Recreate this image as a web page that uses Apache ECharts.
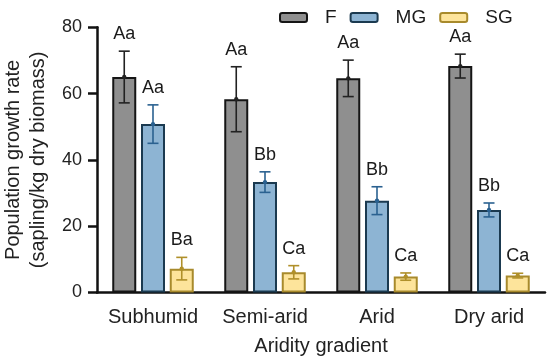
<!DOCTYPE html>
<html>
<head>
<meta charset="utf-8">
<script src="https://cdn.jsdelivr.net/npm/echarts@6/dist/echarts.min.js"></script>
<style>html,body{margin:0;padding:0;background:#fff}#c{width:550px;height:364px}</style>
</head>
<body>
<div id="c"></div>
<script>
var categories = ['Subhumid', 'Semi-arid', 'Arid', 'Dry arid'];
var seriesNames = ['F', 'MG', 'SG'];
var valuesF = [65.0, 58.3, 64.6, 68.3];
var errF = [7.8, 9.8, 5.5, 3.6];
var lettersF = ['Aa', 'Aa', 'Aa', 'Aa'];
var valuesMG = [50.8, 33.3, 27.7, 24.9];
var errMG = [5.8, 3.1, 4.2, 2.1];
var lettersMG = ['Aa', 'Bb', 'Bb', 'Bb'];
var valuesSG = [7.2, 6.1, 4.8, 5.1];
var errSG = [3.4, 2.0, 1.1, 0.7];
var lettersSG = ['Ba', 'Ca', 'Ca', 'Ca'];
var yTicks = [0, 20, 40, 60, 80];

var FONT = 'Liberation Sans, Arial, sans-serif';
var BAR_W = 24, GAP = 4.75;
var fills = ['#8f8f8f', '#8db4d3', '#fde49b'];
var borders = ['#151515', '#1b3a50', '#a88a2c'];
var errColors = ['#222222', '#2a6190', '#b0902a'];
var vals = [valuesF, valuesMG, valuesSG];
var errs = [errF, errMG, errSG];
var letters = [lettersF, lettersMG, lettersSG];

var series = [];
seriesNames.forEach(function (name, s) {
  series.push({
    name: name, type: 'bar', data: vals[s],
    barWidth: BAR_W, barGap: (GAP / BAR_W * 100) + '%',
    itemStyle: { color: fills[s], borderColor: borders[s], borderWidth: 2 },
    emphasis: { disabled: true }
  });
});
seriesNames.forEach(function (name, s) {
  var data = vals[s].map(function (v, i) { return [i, v, errs[s][i]]; });
  series.push({
    type: 'custom', name: name + '_err', data: data, z: 5, silent: true,
    renderItem: function (params, api) {
      var i = api.value(0), v = api.value(1), e = api.value(2);
      var off = (s - 1) * (BAR_W + GAP);
      var c = api.coord([i, v]);
      var hi = api.coord([i, v + e]);
      var lo = api.coord([i, v - e]);
      var x = c[0] + off;
      var cap = 5.5;
      var st = { stroke: errColors[s], lineWidth: 1.6 };
      return {
        type: 'group', children: [
          { type: 'line', shape: { x1: x, y1: hi[1], x2: x, y2: lo[1] }, style: st },
          { type: 'line', shape: { x1: x - cap, y1: hi[1], x2: x + cap, y2: hi[1] }, style: st },
          { type: 'line', shape: { x1: x - cap, y1: lo[1], x2: x + cap, y2: lo[1] }, style: st },
          { type: 'circle', shape: { cx: x, cy: c[1], r: 2.2 }, style: { fill: errColors[s] } },
          { type: 'text', x: x, y: hi[1] - 8, style: { text: letters[s][params.dataIndex], fill: '#1a1a1a', font: '18px ' + FONT, align: 'center', verticalAlign: 'bottom' } }
        ]
      };
    }
  });
});

var chart = echarts.init(document.getElementById('c'), null, { renderer: 'canvas' });
chart.setOption({
  animation: false,
  backgroundColor: '#fff',
  textStyle: { fontFamily: FONT },
  legend: {
    data: seriesNames, left: 274, top: 3, itemWidth: 27, itemHeight: 9, itemGap: 13,
    textStyle: { fontSize: 19, color: '#1a1a1a', fontFamily: FONT, padding: [0, 0, 0, 13] },
    selectedMode: false
  },
  grid: { left: 97, right: 5, top: 27.3, bottom: 71.5, containLabel: false, outerBoundsMode: 'none' },
  xAxis: {
    type: 'category', data: categories,
    axisLine: { lineStyle: { color: '#111', width: 2.5 } },
    axisTick: { alignWithLabel: true, length: 10, lineStyle: { color: '#111', width: 2.5 } },
    axisLabel: { fontSize: 20, color: '#222', margin: 15, interval: 0, fontFamily: FONT },
    name: 'Aridity gradient', nameLocation: 'middle', nameGap: 44,
    nameTextStyle: { fontSize: 20, color: '#222', fontFamily: FONT }
  },
  yAxis: {
    type: 'value', min: yTicks[0], max: yTicks[yTicks.length - 1], interval: yTicks[1] - yTicks[0],
    axisLine: { show: true, lineStyle: { color: '#111', width: 2.5 } },
    axisTick: { show: true, length: 9, lineStyle: { color: '#111', width: 2.5 } },
    axisLabel: { fontSize: 18, color: '#222', margin: 15, fontFamily: FONT },
    splitLine: { show: false },
    name: 'Population growth rate\n(sapling/kg dry biomass)', nameLocation: 'middle', nameGap: 42,
    nameTextStyle: { fontSize: 20, lineHeight: 25, color: '#222', fontFamily: FONT }
  },
  series: series
});
</script>
</body>
</html>
